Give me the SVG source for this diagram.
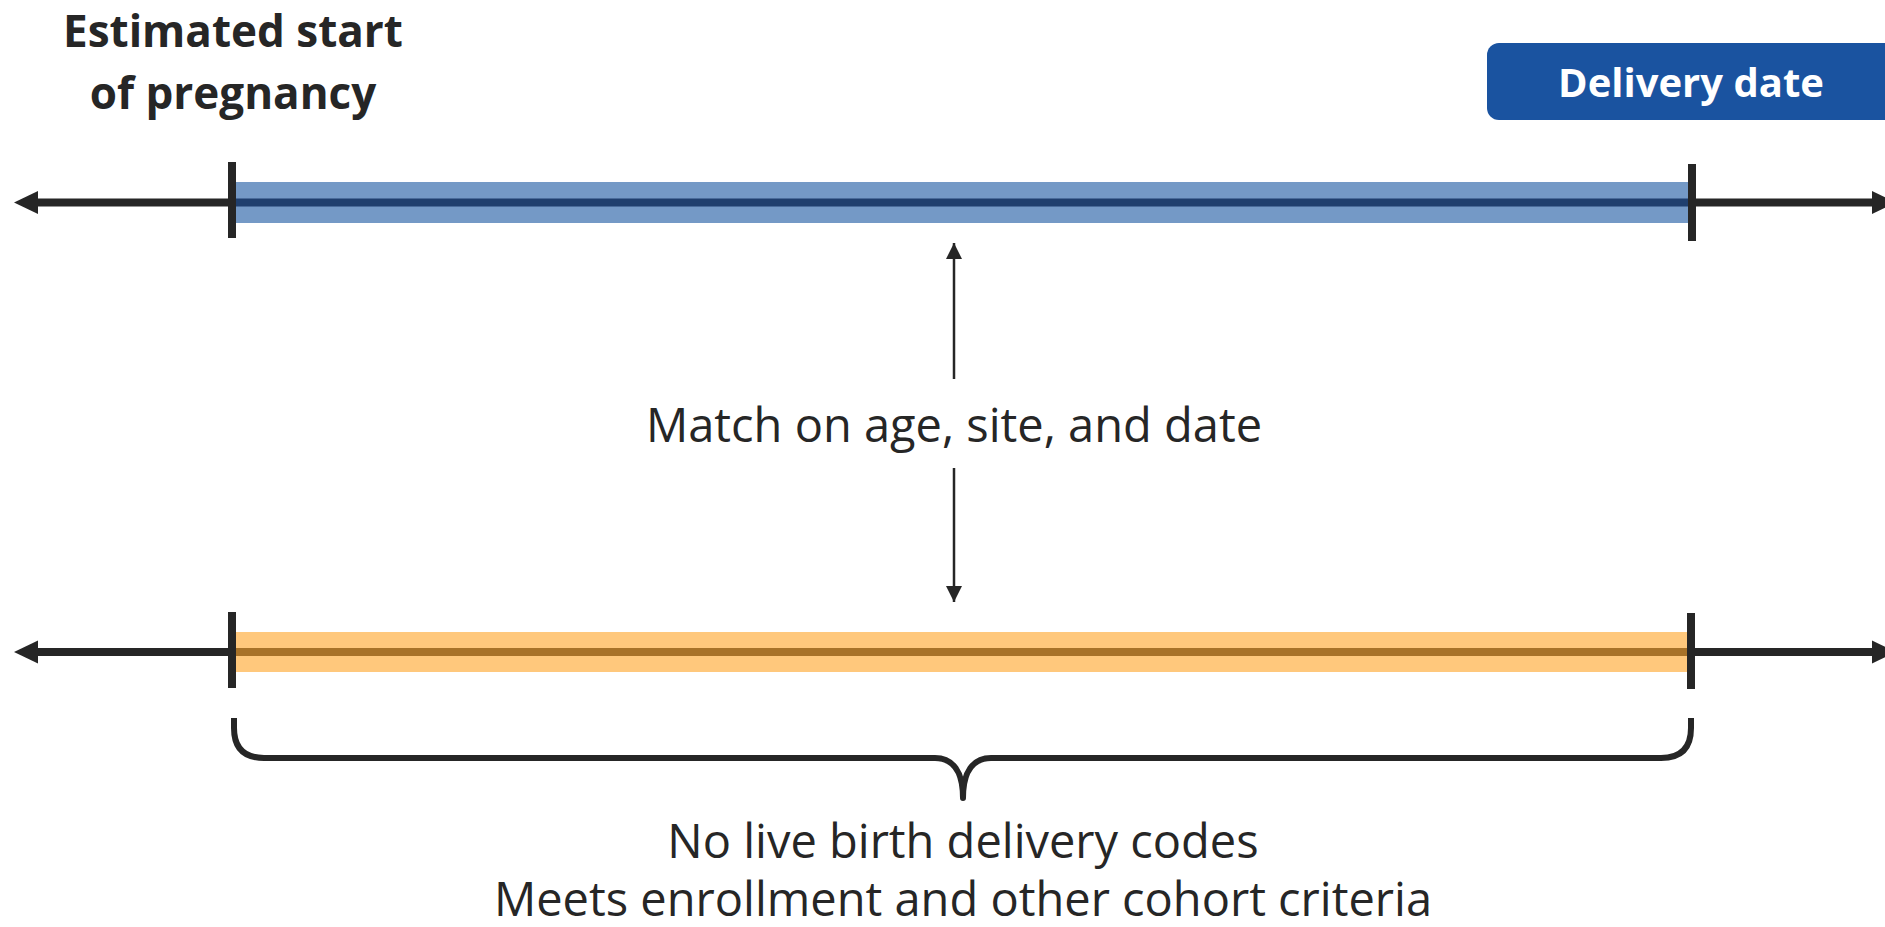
<svg xmlns="http://www.w3.org/2000/svg" width="1885" height="927" viewBox="0 0 1885 927">
<style>
.blk{stroke:#262626;stroke-width:8;fill:none}
.tick{fill:#262626}
.head{fill:#262626}
.lbl{font-family:"Open Sans","Noto Sans","Liberation Sans",sans-serif;fill:#262626}
.bold{font-weight:700}
.thin{stroke:#262626;stroke-width:2.5;fill:none}
</style>
<defs>
<marker id="ah" viewBox="0 0 16 16" refX="16" refY="8" markerWidth="16" markerHeight="16" markerUnits="userSpaceOnUse" orient="auto">
<path d="M0,0 L16,8 L0,16 Z" fill="#262626"/>
</marker>
</defs>
<rect width="1885" height="927" fill="#ffffff"/>

<g id="start-label">
<text class="lbl bold" x="233" y="47" font-size="44" text-anchor="middle">Estimated start</text>
<text class="lbl bold" x="233" y="109" font-size="44" text-anchor="middle">of pregnancy</text>
</g>

<g id="delivery-label">
<rect x="1487" y="43" width="430" height="77" rx="12" fill="#1a53a0"/>
<text class="lbl bold" x="1691" y="97" font-size="40" text-anchor="middle" style="fill:#ffffff">Delivery date</text>
</g>

<g id="top-timeline">
<rect x="236" y="182" width="1453" height="41" fill="#7499c6"/>
<line x1="236" y1="202.5" x2="1689" y2="202.5" stroke="#1f3f6e" stroke-width="8"/>
<line class="blk" x1="232" y1="202.5" x2="36" y2="202.5"/>
<polygon class="head" points="14,202.5 38,191 38,214"/>
<line class="blk" x1="1692" y1="202.5" x2="1874" y2="202.5"/>
<polygon class="head" points="1896,202.5 1872,191 1872,214"/>
<rect class="tick" x="228" y="162" width="8" height="76"/>
<rect class="tick" x="1688" y="164" width="8" height="77"/>
</g>

<g id="bottom-timeline">
<rect x="236" y="632" width="1453" height="40" fill="#ffc87c"/>
<line x1="236" y1="652" x2="1689" y2="652" stroke="#a87228" stroke-width="8"/>
<line class="blk" x1="232" y1="652" x2="36" y2="652"/>
<polygon class="head" points="14,652 38,640.5 38,663.5"/>
<line class="blk" x1="1692" y1="652" x2="1874" y2="652"/>
<polygon class="head" points="1896,652 1872,640.5 1872,663.5"/>
<rect class="tick" x="228" y="612" width="8" height="76"/>
<rect class="tick" x="1687" y="613" width="8" height="76"/>
</g>

<g id="match-label">
<text class="lbl" x="954" y="442" font-size="47" text-anchor="middle">Match on age, site, and date</text>
</g>

<g id="criteria-label">
<text class="lbl" x="963" y="858" font-size="47" text-anchor="middle">No live birth delivery codes</text>
<text class="lbl" x="963" y="916" font-size="47" text-anchor="middle">Meets enrollment and other cohort criteria</text>
</g>

<g id="connectors">
<line class="thin" x1="954" y1="379" x2="954" y2="243" marker-end="url(#ah)"/>
<line class="thin" x1="954" y1="468" x2="954" y2="602" marker-end="url(#ah)"/>
<path d="M234,718 L234,728 Q234,758 264,758 L935,758 C953,758 963,772 963,798 C963,772 973,758 991,758 L1661,758 Q1691,758 1691,728 L1691,718" stroke="#262626" stroke-width="6" fill="none" stroke-linecap="butt" stroke-linejoin="round"/>
</g>
</svg>
